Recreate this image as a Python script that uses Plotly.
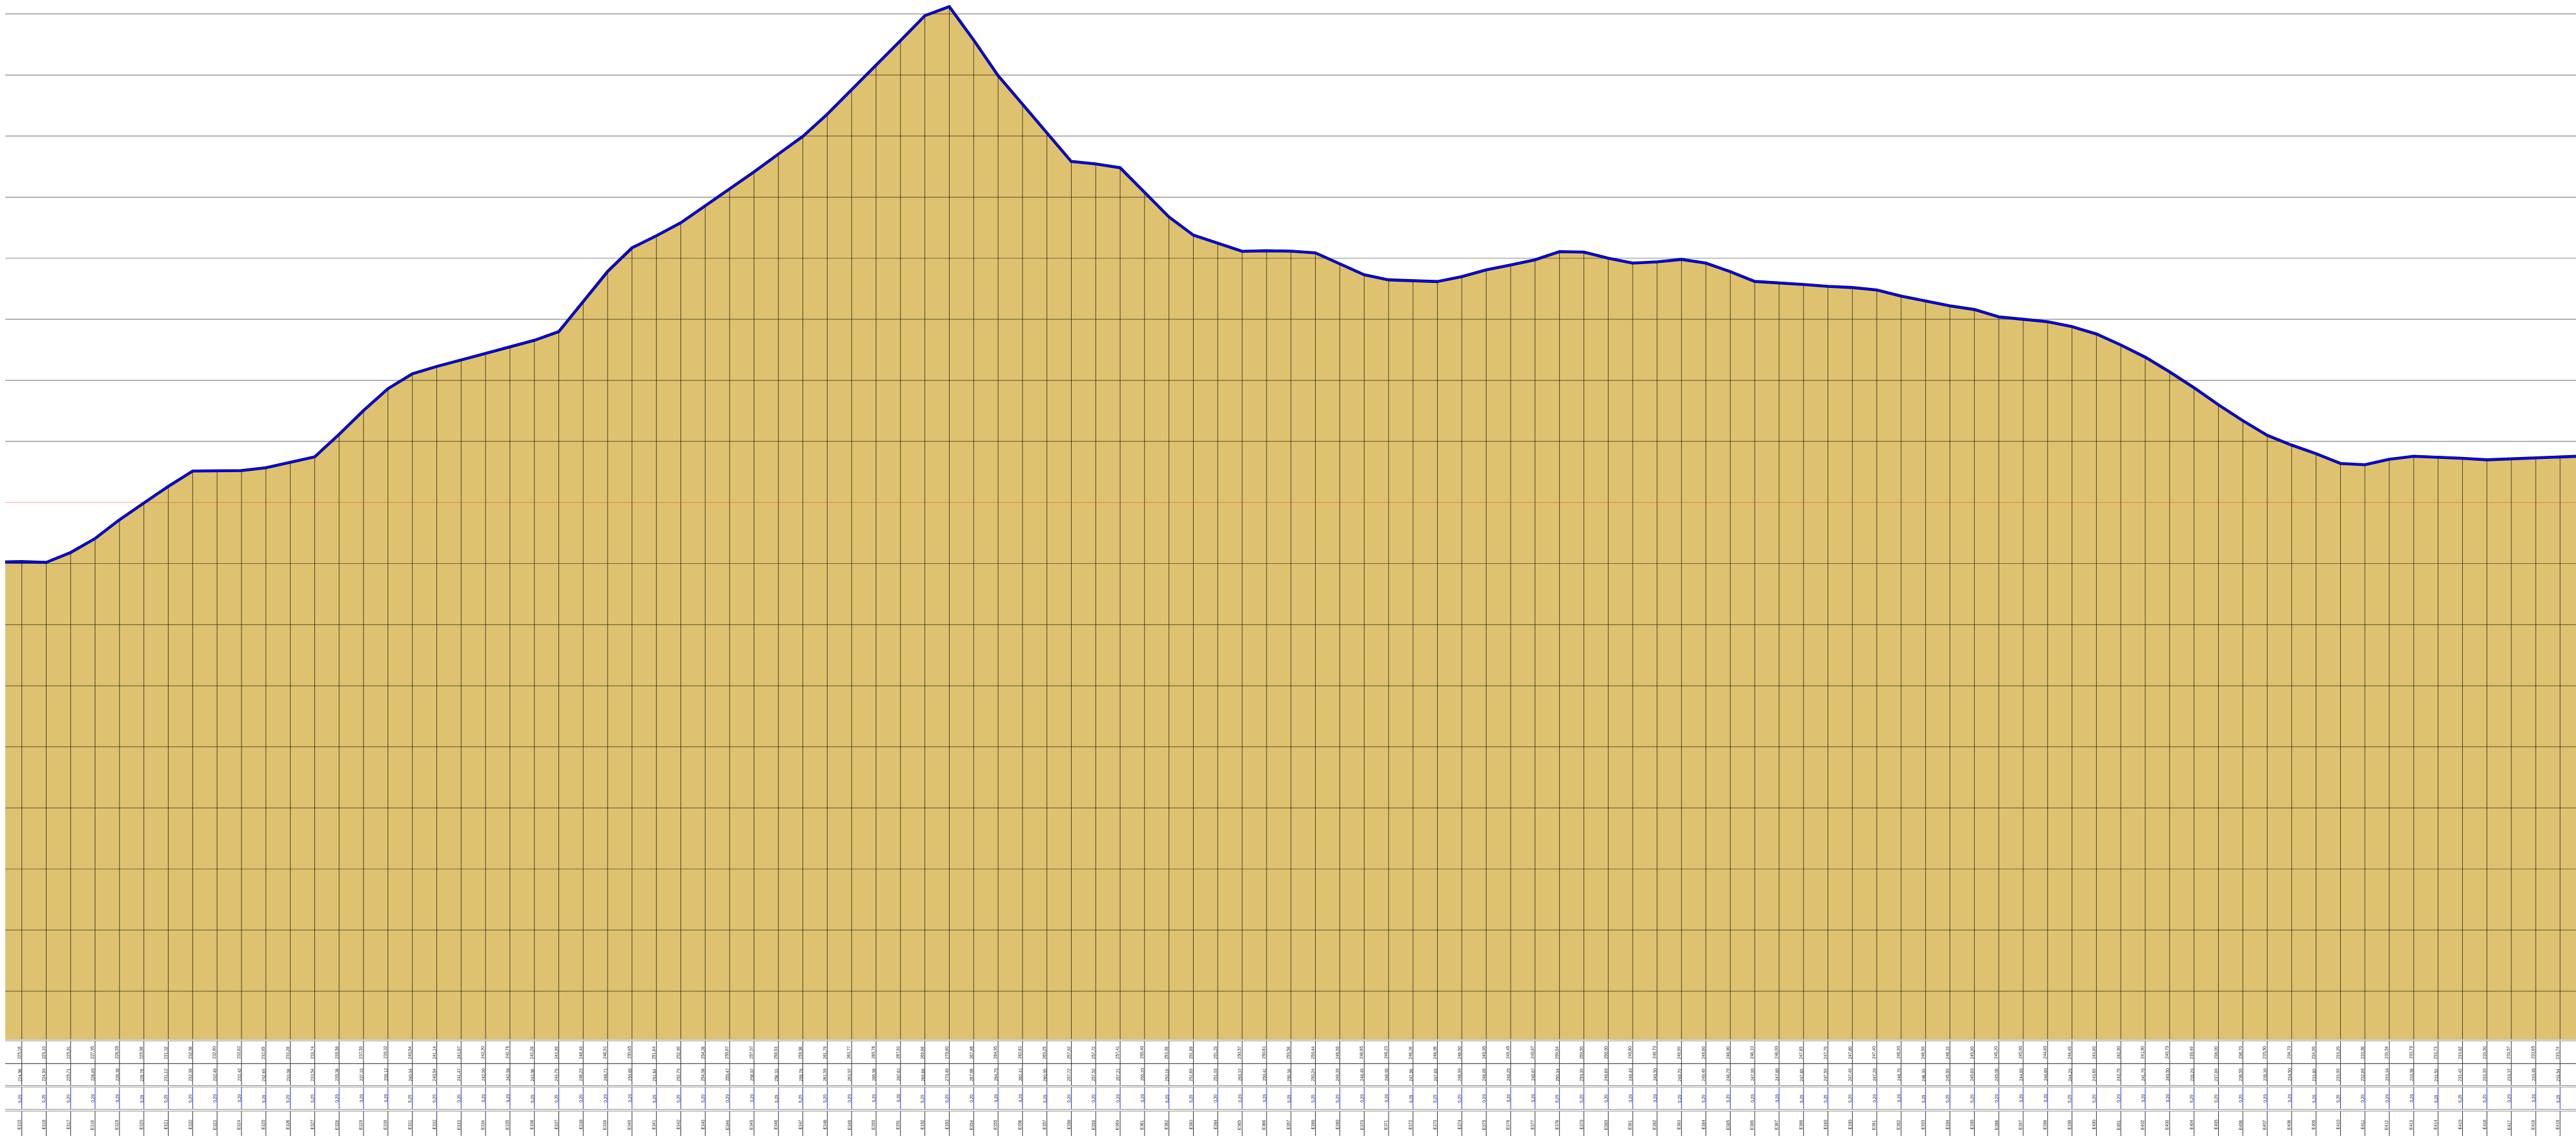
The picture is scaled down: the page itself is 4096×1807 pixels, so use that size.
import plotly.graph_objects as go

# ---------------- data ----------------
stations = [
    "E315", "E316", "E317", "E318", "E319", "E320", "E321", "E322", "E323", "E324",
    "E325", "E326", "E327", "E328", "E329", "E330", "E331", "E332", "E333", "E334",
    "E335", "E336", "E337", "E338", "E339", "E340", "E341", "E342", "E343", "E344",
    "E345", "E346", "E347", "E348", "E349", "E350", "E351", "E352", "E353", "E354",
    "E355", "E356", "E357", "E358", "E359", "E360", "E361", "E362", "E363", "E364",
    "E365", "E366", "E367", "E368", "E369", "E370", "E371", "E372", "E373", "E374",
    "E375", "E376", "E377", "E378", "E379", "E380", "E381", "E382", "E383", "E384",
    "E385", "E386", "E387", "E388", "E389", "E390", "E391", "E392", "E393", "E394",
    "E395", "E396", "E397", "E398", "E399", "E400", "E401", "E402", "E403", "E404",
    "E405", "E406", "E407", "E408", "E409", "E410", "E411", "E412", "E413", "E414",
    "E415", "E416", "E417", "E418", "E419",
]

ground = [
    225.16, 225.10, 225.91, 227.05, 228.59, 229.96, 231.32, 232.58, 232.60,
    232.62, 232.85, 233.28, 233.74, 235.58, 237.53, 239.32, 240.54, 241.14, 241.67,
    242.20, 242.78, 243.28, 243.99, 246.43, 248.91, 250.85, 251.84, 252.90,
    254.28, 255.67, 257.07, 258.53, 259.98, 261.79, 263.77, 265.76, 267.81, 269.86,
    270.60, 267.86, 264.95, 262.61, 260.25, 257.92, 257.72, 257.41, 255.40,
    253.38, 251.89, 251.23, 250.57, 250.61, 250.58, 250.44, 249.55, 248.65, 248.23, 248.16, 248.09,
    248.50, 249.05, 249.45, 249.87, 250.54, 250.50, 250.00, 249.60, 249.70, 249.90,
    249.60, 248.90, 248.10, 248.00, 247.85, 247.70, 247.60, 247.40, 246.90, 246.50,
    246.10, 245.80, 245.20, 245.00, 244.80, 244.40, 243.80, 242.90, 241.90, 240.70,
    239.40, 238.00, 236.70, 235.50, 234.70, 234.00, 233.20,
    233.09, 233.54, 233.79, 233.73, 233.62, 233.50, 233.57, 233.65, 233.74,
]

invert = [
    224.96, 224.90, 225.71, 226.85, 228.39, 229.76, 231.12, 232.38, 232.40,
    232.42, 232.65, 233.08, 233.54, 235.38, 237.33, 239.12, 240.34, 240.94, 241.47,
    242.00, 242.58, 243.08, 243.79, 246.23, 248.71, 250.65, 251.64, 252.70,
    254.08, 255.47, 256.87, 258.33, 259.78, 261.59, 263.57, 265.56, 267.61, 269.66,
    270.40, 267.66, 264.75, 262.41, 260.05, 257.72, 257.52, 257.21, 255.20,
    253.18, 251.69, 251.03, 250.37, 250.41, 250.38, 250.24, 249.35, 248.45, 248.03, 247.96, 247.89,
    248.30, 248.85, 249.25, 249.67, 250.34, 250.30, 249.80, 249.40, 249.50, 249.70,
    249.40, 248.70, 247.90, 247.80, 247.65, 247.50, 247.40, 247.20, 246.70, 246.30,
    245.90, 245.60, 245.00, 244.80, 244.60, 244.20, 243.60, 242.70, 241.70, 240.50,
    239.20, 237.80, 236.50, 235.30, 234.50, 233.80, 233.00,
    232.89, 233.34, 233.59, 233.53, 233.42, 233.30, 233.37, 233.45, 233.54,
]

depth = [0.20] * len(stations)

# profile values at the left / right borders of the view
edge_elev = [225.14, 233.78]

grid_levels = [190, 195, 200, 205, 210, 215, 220, 225, 235, 240, 245, 250, 255, 260, 265, 270]
ref_level = [230]

# ---------------- layout constants ----------------
W, H = 4096, 1807
S = W / 6022.0
X_RANGE = [-0.684, 104.65]
Y_RANGE = [186.04, 271.14]
plot_bottom_px = 2431 * S
table_h = H - plot_bottom_px
split = table_h / H
x_dom0 = 12 * S / W

idx = list(range(len(stations)))

fig = go.Figure()

# filled ground area
px = [X_RANGE[0]] + idx + [X_RANGE[1]]
py = [edge_elev[0]] + ground + [edge_elev[1]]
fig.add_trace(go.Scatter(x=px, y=py, mode="lines", line=dict(width=0),
                         fill="tozeroy", fillcolor="#DEC270", hoverinfo="skip"))

# station drop lines
dx, dy = [], []
for i, g in zip(idx, ground):
    dx += [i, i, None]
    dy += [g, Y_RANGE[0], None]
fig.add_trace(go.Scatter(x=dx, y=dy, mode="lines",
                         line=dict(color="rgba(0,0,0,0.85)", width=0.8), hoverinfo="skip"))

# horizontal grid lines
gx, gy = [], []
for g in grid_levels:
    gx += [X_RANGE[0], X_RANGE[1], None]
    gy += [g, g, None]
fig.add_trace(go.Scatter(x=gx, y=gy, mode="lines",
                         line=dict(color="rgba(0,0,0,0.48)", width=1.2), hoverinfo="skip"))
rx, ry = [], []
for g in ref_level:
    rx += [X_RANGE[0], X_RANGE[1], None]
    ry += [g, g, None]
fig.add_trace(go.Scatter(x=rx, y=ry, mode="lines",
                         line=dict(color="rgba(255,40,40,0.35)", width=1.1), hoverinfo="skip"))

# profile line (dark edge + blue core)
fig.add_trace(go.Scatter(x=px, y=py, mode="lines",
                         line=dict(color="#000033", width=4.6), hoverinfo="skip"))
fig.add_trace(go.Scatter(x=px, y=py, mode="lines",
                         line=dict(color="#0000FF", width=3.0), hoverinfo="skip"))

# ---------------- table (y2 in px from top of table) ----------------
f = S
row_lines = {
    "r1": (3.3 * f, 56.3 * f),
    "r2": (56.3 * f, 107.5 * f),
    "r3": (111.0 * f, 163.3 * f),
    "r4": (167.3 * f, table_h),
}
row_centers = [30 * f, 82 * f, 138 * f, 199 * f]

for key, col in [("r1", "#303030"), ("r2", "#303030"), ("r3", "rgba(0,0,255,0.85)"), ("r4", "#303030")]:
    tx, ty = [], []
    a, b = row_lines[key]
    for i in idx:
        tx += [i, i, None]
        ty += [a, b, None]
    fig.add_trace(go.Scatter(x=tx, y=ty, mode="lines", yaxis="y2",
                             line=dict(color=col, width=1.0), hoverinfo="skip"))

# horizontal table rules
shapes = []
for yv, col in [(0.0, "#8c8c8c"), (3.3 * f, "#8c8c8c"),
                (56.3 * f, "#222222"),
                (107.5 * f, "#8c8c8c"), (111.0 * f, "#8c8c8c"),
                (163.3 * f, "#8c8c8c"), (167.3 * f, "#8c8c8c")]:
    shapes.append(dict(type="line", xref="paper", yref="y2", x0=x_dom0, x1=1,
                       y0=yv, y1=yv, line=dict(color=col, width=1)))

def fmt(v):
    return f"{v:.2f}".replace(".", ",")

annotations = []
rows = [[fmt(v) for v in ground], [fmt(v) for v in invert], [fmt(v) for v in depth], stations]
for r, vals in enumerate(rows):
    for i, t in zip(idx, vals):
        annotations.append(dict(x=i, y=row_centers[r], xref="x", yref="y2", text=t,
                                showarrow=False, textangle=-90, xanchor="center",
                                yanchor="middle", xshift=-3.8,
                                font=dict(family="Liberation Sans, Arial", size=6.6, color="#222222")))

fig.update_layout(
    width=W, height=H, margin=dict(l=0, r=0, t=0, b=0),
    paper_bgcolor="white", plot_bgcolor="white", showlegend=False,
    xaxis=dict(domain=[x_dom0, 1], range=X_RANGE, showgrid=False, zeroline=False,
               showticklabels=False, ticks="", showline=False),
    yaxis=dict(domain=[split, 1], range=Y_RANGE, showgrid=False, zeroline=False,
               showticklabels=False, ticks="", showline=False),
    yaxis2=dict(domain=[0, split], range=[table_h, 0], showgrid=False, zeroline=False,
                showticklabels=False, ticks="", showline=False),
    shapes=shapes, annotations=annotations,
)

fig.write_html("out.html", include_plotlyjs=True, config={"displayModeBar": False},
               post_script="document.body.style.margin='0';document.body.style.overflow='hidden';")
